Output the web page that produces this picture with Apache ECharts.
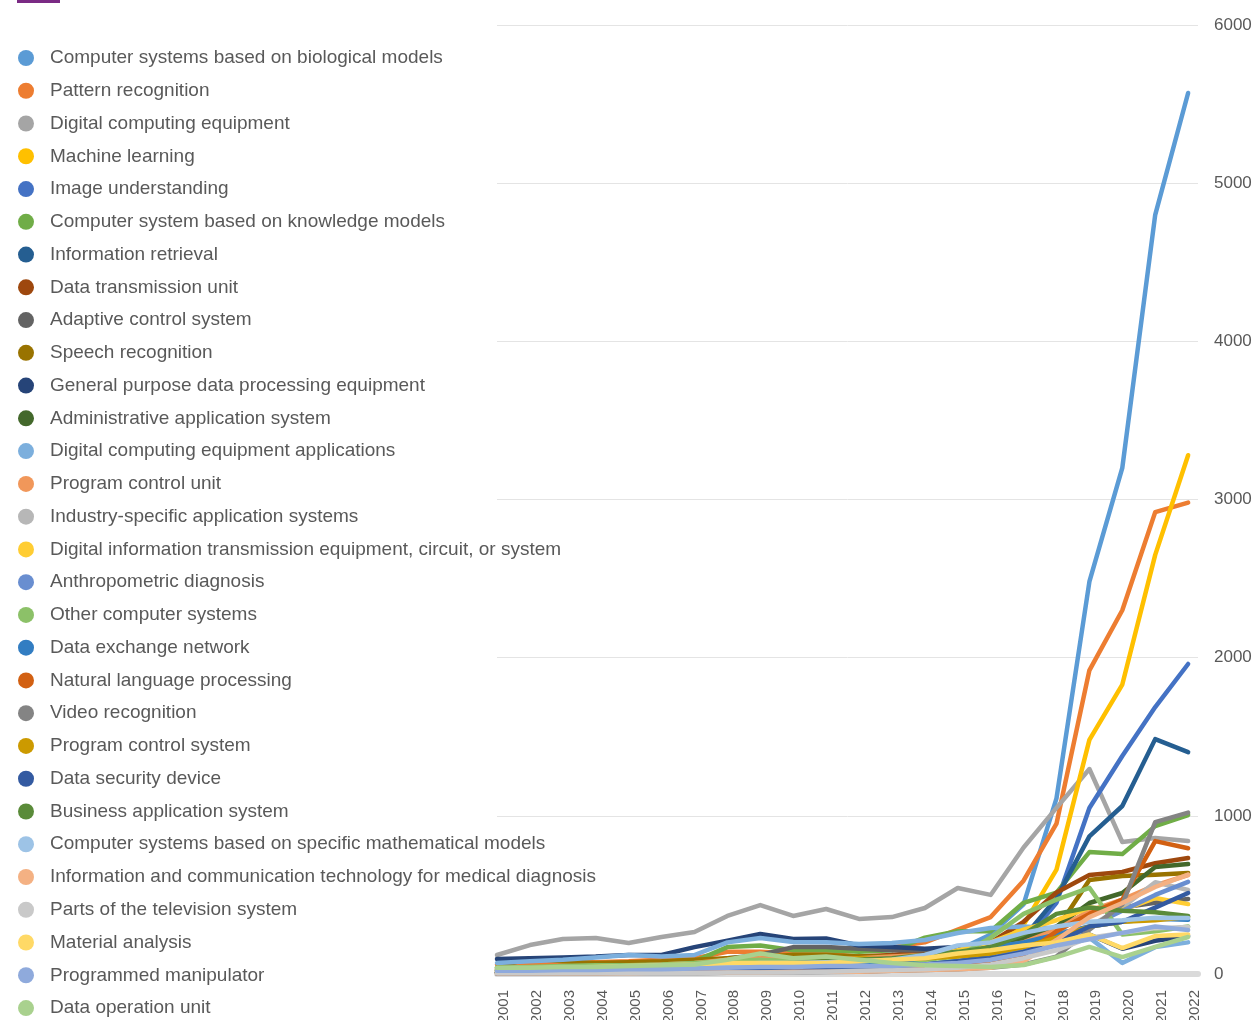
<!DOCTYPE html>
<html>
<head>
<meta charset="utf-8">
<title>Patent categories by year</title>
<script src="https://cdn.jsdelivr.net/npm/echarts@6/dist/echarts.min.js"></script>
<style>
  html, body { margin: 0; padding: 0; background: #fff; }
  #chart { width: 1252px; height: 1020px; }
</style>
</head>
<body>
<div id="chart"></div>
<script>
  // ==== data ====
  const years = [2001, 2002, 2003, 2004, 2005, 2006, 2007, 2008, 2009, 2010, 2011,
    2012, 2013, 2014, 2015, 2016, 2017, 2018, 2019, 2020, 2021, 2022]
  const yTicks = [0, 1000, 2000, 3000, 4000, 5000, 6000]

  const names = [
    'Computer systems based on biological models',
    'Pattern recognition',
    'Digital computing equipment',
    'Machine learning',
    'Image understanding',
    'Computer system based on knowledge models',
    'Information retrieval',
    'Data transmission unit',
    'Adaptive control system',
    'Speech recognition',
    'General purpose data processing equipment',
    'Administrative application system',
    'Digital computing equipment applications',
    'Program control unit',
    'Industry-specific application systems',
    'Digital information transmission equipment, circuit, or system',
    'Anthropometric diagnosis',
    'Other computer systems',
    'Data exchange network',
    'Natural language processing',
    'Video recognition',
    'Program control system',
    'Data security device',
    'Business application system',
    'Computer systems based on specific mathematical models',
    'Information and communication technology for medical diagnosis',
    'Parts of the television system',
    'Material analysis',
    'Programmed manipulator',
    'Data operation unit'
  ]

  const bioModels = [40, 45, 50, 55, 60, 60, 70, 90, 100, 90, 90, 80, 90, 110, 150, 250, 440, 1110, 2480, 3200, 4800, 5570]
  const patternRecognition = [60, 70, 70, 75, 80, 90, 100, 140, 140, 130, 130, 150, 170, 200, 280, 360, 590, 950, 1920, 2300, 2920, 2980]
  const digitalComputing = [120, 183, 221, 228, 196, 234, 265, 367, 436, 367, 411, 348, 360, 417, 544, 500, 800, 1050, 1296, 834, 860, 841]
  const machineLearning = [20, 25, 30, 30, 35, 40, 45, 50, 55, 60, 60, 70, 80, 90, 130, 170, 310, 660, 1480, 1830, 2650, 3280]
  const imageUnderstanding = [10, 10, 15, 15, 20, 20, 25, 30, 35, 35, 40, 40, 45, 50, 60, 80, 200, 450, 1050, 1378, 1688, 1960]
  const knowledgeModels = [30, 35, 40, 45, 50, 60, 80, 170, 180, 150, 150, 140, 150, 230, 270, 270, 450, 515, 771, 758, 935, 1005]
  const infoRetrieval = [20, 20, 25, 25, 30, 30, 35, 40, 45, 45, 50, 50, 55, 60, 80, 120, 230, 480, 870, 1062, 1485, 1403]
  const dataTransmission = [20, 25, 25, 30, 35, 40, 50, 80, 90, 90, 100, 110, 120, 140, 170, 200, 330, 515, 626, 645, 700, 733]
  const adaptiveControl = [30, 35, 40, 45, 50, 55, 60, 100, 120, 170, 170, 160, 150, 150, 160, 180, 230, 300, 380, 420, 450, 474]
  const speechRecognition = [40, 100, 80, 70, 75, 80, 90, 100, 110, 120, 120, 110, 110, 120, 140, 160, 230, 280, 594, 620, 628, 638]
  const generalPurpose = [95, 100, 105, 110, 120, 120, 170, 210, 253, 221, 225, 180, 170, 160, 170, 160, 200, 250, 250, 160, 210, 240]
  const adminApplication = [10, 10, 15, 15, 20, 25, 30, 40, 50, 60, 70, 80, 90, 110, 140, 170, 230, 300, 449, 512, 677, 695]
  const computingApplications = [70, 80, 90, 105, 120, 110, 120, 200, 227, 202, 200, 190, 196, 215, 259, 291, 300, 290, 230, 70, 170, 200]
  const programControlUnit = [30, 40, 40, 45, 50, 60, 70, 90, 100, 90, 90, 100, 110, 120, 140, 160, 200, 280, 400, 470, 560, 626]
  const industrySpecific = [5, 5, 5, 5, 10, 10, 10, 15, 15, 20, 20, 25, 30, 40, 60, 80, 150, 250, 300, 420, 580, 531]
  const digitalTransmission = [20, 25, 30, 30, 40, 40, 50, 60, 70, 60, 60, 70, 80, 100, 150, 200, 280, 340, 420, 405, 480, 442]
  const anthropometric = [10, 10, 10, 15, 15, 20, 20, 25, 30, 30, 35, 40, 50, 60, 80, 100, 150, 220, 300, 400, 500, 582]
  const otherComputer = [40, 45, 50, 55, 55, 60, 70, 80, 90, 80, 80, 70, 70, 90, 110, 230, 380, 470, 545, 250, 270, 300]
  const dataExchange = [10, 10, 10, 15, 15, 20, 25, 30, 40, 60, 80, 70, 80, 100, 130, 170, 200, 250, 300, 330, 350, 343]
  const naturalLanguage = [5, 5, 5, 5, 10, 10, 10, 15, 20, 20, 25, 30, 35, 40, 50, 70, 120, 270, 380, 470, 840, 795]
  const videoRecognition = [2, 2, 3, 3, 4, 5, 5, 8, 10, 10, 12, 15, 20, 25, 30, 40, 60, 110, 280, 440, 960, 1020]
  const programControlSystem = [10, 15, 15, 20, 20, 25, 30, 35, 40, 60, 80, 100, 90, 100, 110, 130, 170, 230, 300, 330, 340, 360]
  const dataSecurity = [10, 10, 10, 15, 15, 20, 20, 25, 30, 35, 40, 45, 50, 60, 80, 100, 140, 200, 300, 330, 420, 512]
  const businessApplication = [20, 25, 25, 30, 30, 35, 40, 50, 60, 70, 80, 90, 100, 120, 140, 170, 250, 380, 420, 400, 390, 367]
  const mathModels = [20, 25, 30, 35, 40, 45, 50, 60, 70, 70, 75, 80, 90, 120, 180, 200, 260, 300, 330, 340, 355, 354]
  const medicalIct = [5, 5, 5, 5, 5, 10, 10, 10, 10, 15, 15, 15, 20, 25, 30, 40, 80, 215, 360, 449, 550, 628]
  const televisionParts = [5, 5, 5, 5, 5, 5, 5, 10, 10, 10, 15, 20, 25, 30, 40, 60, 100, 150, 230, 260, 290, 297]
  const materialAnalysis = [30, 35, 40, 45, 50, 55, 60, 70, 70, 70, 70, 80, 90, 100, 130, 150, 180, 200, 250, 164, 240, 250]
  const programmedManipulator = [20, 20, 25, 25, 30, 30, 35, 40, 45, 45, 50, 50, 50, 60, 70, 90, 130, 180, 220, 260, 300, 278]
  const dataOperation = [40, 40, 45, 45, 50, 55, 60, 90, 130, 100, 110, 90, 70, 55, 50, 45, 57, 107, 171, 107, 171, 234]

  const seriesValues = [
    bioModels, patternRecognition, digitalComputing, machineLearning, imageUnderstanding,
    knowledgeModels, infoRetrieval, dataTransmission, adaptiveControl, speechRecognition,
    generalPurpose, adminApplication, computingApplications, programControlUnit, industrySpecific,
    digitalTransmission, anthropometric, otherComputer, dataExchange, naturalLanguage,
    videoRecognition, programControlSystem, dataSecurity, businessApplication, mathModels,
    medicalIct, televisionParts, materialAnalysis, programmedManipulator, dataOperation
  ]

  const colors = [
    '#5B9BD5', '#ED7D31', '#A5A5A5', '#FFC000', '#4472C4', '#70AD47',
    '#255E91', '#9E480E', '#636363', '#997300', '#264478', '#43682B',
    '#7CAFDD', '#F1975A', '#B7B7B7', '#FFCD33', '#698ED0', '#8CC168',
    '#327DC2', '#D26012', '#848484', '#CC9A00', '#335AA1', '#5A8B39',
    '#9DC3E6', '#F4B183', '#C9C9C9', '#FFD966', '#8FAADC', '#A9D18E'
  ]

  // ==== chart ====
  const fontFamily = '"Liberation Sans", Arial, Helvetica, sans-serif'
  const chart = echarts.init(document.getElementById('chart'))

  const series = names.map((name, i) => ({
    name,
    type: 'line',
    data: years.map((y, j) => [y, seriesValues[i][j]]),
    showSymbol: false,
    symbol: 'circle',
    lineStyle: { width: 4.5, color: colors[i], join: 'round', cap: 'round' },
    itemStyle: { color: colors[i] }
  }))

  chart.setOption({
    animation: false,
    color: colors,
    textStyle: { fontFamily },
    graphic: [
      { type: 'rect', left: 17, top: 0, shape: { width: 43, height: 3 }, style: { fill: '#7A2A84' } }
    ],
    legend: {
      orient: 'vertical',
      left: 13,
      top: 43,
      height: 980,
      icon: 'circle',
      itemWidth: 16,
      itemHeight: 16,
      itemGap: 12.76,
      selectedMode: false,
      textStyle: { fontSize: 19, color: '#595959', lineHeight: 20, padding: [0, 0, 0, 11], fontFamily }
    },
    grid: { left: 497, right: 54, top: 25, bottom: 46, outerBoundsMode: 'none' },
    xAxis: [
      {
        type: 'value',
        min: years[0],
        max: 2022.3,
        interval: 1,
        axisLine: { show: true, onZero: false, lineStyle: { color: '#DADADA', width: 6 } },
        axisTick: { show: false },
        splitLine: { show: false },
        axisLabel: { show: false }
      },
      {
        // label-only axis, shifted a few px right like the source
        type: 'value',
        position: 'bottom',
        min: years[0] - 0.21,
        max: 2022.09,
        axisLine: { show: false },
        axisTick: { show: false },
        splitLine: { show: false },
        axisLabel: {
          rotate: 90,
          margin: 16,
          fontSize: 15,
          color: '#595959',
          customValues: years,
          formatter: (v) => String(v)
        }
      }
    ],
    yAxis: {
      type: 'value',
      position: 'right',
      min: yTicks[0],
      max: yTicks[yTicks.length - 1],
      interval: 1000,
      axisLine: { show: false },
      axisTick: { show: false },
      splitLine: { lineStyle: { color: '#E4E4E4', width: 1 } },
      axisLabel: { margin: 16, fontSize: 17, color: '#595959', formatter: (v) => String(v) }
    },
    series
  })
</script>
</body>
</html>
